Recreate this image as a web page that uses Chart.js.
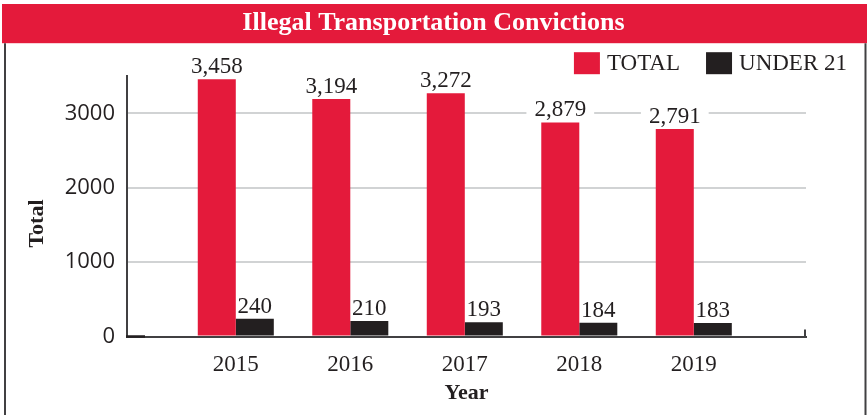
<!DOCTYPE html>
<html>
<head>
<meta charset="utf-8">
<title>Illegal Transportation Convictions</title>
<script src="https://cdn.jsdelivr.net/npm/chart.js@4.4.1/dist/chart.umd.min.js"></script>
<style>
  html, body { margin: 0; padding: 0; background: #fff; }
  #wrap { width: 867px; height: 415px; position: relative; }
</style>
</head>
<body>
<div id="wrap"><canvas id="convictionsChart"></canvas></div>
<script>
(() => {
  // ---- DATA ----
  const years = ["2015", "2016", "2017", "2018", "2019"];
  const totalConvictions = [3458, 3194, 3272, 2879, 2791];
  const under21Convictions = [240, 210, 193, 184, 183];
  const yTickValues = [0, 1000, 2000, 3000];
  const yAxisTitle = "Total";

  // ---- STYLE ----
  const RED = "#e41a3b";
  const INK = "#231f20";
  const AXIS = "#414042";
  const GRID = "#d1d3d4";
  const SERIF = '"Liberation Serif", "Times New Roman", serif';
  const SANS = '"Open Sans", "Liberation Sans", sans-serif';

  const toPoints = vals => vals.map((v, i) => ({ x: i, y: v }));

  // ---- PLUGIN: red banner, side frame, y title ----
  const frameAndBanner = {
    id: "frameAndBanner",
    beforeDraw(chart) {
      const { ctx, width, height } = chart;
      const tb = chart.titleBlock;
      if (!tb) return;
      ctx.save();
      ctx.fillStyle = RED;
      ctx.fillRect(2, tb.top, width - 2, tb.bottom - tb.top);
      ctx.strokeStyle = AXIS;
      ctx.lineWidth = 2;
      ctx.beginPath();
      ctx.moveTo(5, tb.bottom);
      ctx.lineTo(5, height);
      ctx.moveTo(width - 1.5, tb.bottom);
      ctx.lineTo(width - 1.5, height);
      ctx.stroke();
      ctx.restore();
    },
    afterDraw(chart) {
      const { ctx, chartArea } = chart;
      ctx.save();
      // end tick on the right of the x axis, darker stub at the origin
      ctx.strokeStyle = AXIS;
      ctx.lineWidth = 2;
      ctx.beginPath();
      ctx.moveTo(chartArea.right - 1, chartArea.bottom + 1);
      ctx.lineTo(chartArea.right - 1, chartArea.bottom - 7);
      ctx.stroke();
      ctx.strokeStyle = INK;
      ctx.lineWidth = 2.5;
      ctx.beginPath();
      ctx.moveTo(chartArea.left - 1, chartArea.bottom);
      ctx.lineTo(chartArea.left + 18, chartArea.bottom);
      ctx.stroke();

      // rotated y title, sitting a little low like the print original
      ctx.translate(37, chartArea.bottom - 113);
      ctx.rotate(-Math.PI / 2);
      ctx.font = "bold 22px " + SERIF;
      ctx.fillStyle = INK;
      ctx.textAlign = "center";
      ctx.textBaseline = "middle";
      ctx.fillText(yAxisTitle, 0, 0);
      ctx.restore();
    }
  };

  // ---- PLUGIN: legend row + right spacer (own layout boxes) ----
  function drawLegend(chart, box) {
    const ctx = chart.ctx;
    ctx.save();
    ctx.font = "23px " + SERIF;
    ctx.textBaseline = "middle";
    const items = chart.data.datasets.map(ds => ({
      text: ds.label,
      color: ds.backgroundColor,
      w: ctx.measureText(ds.label).width
    }));
    const swW = 26, swH = 22, gapText = 7, gapItem = 26;
    const total = items.reduce((s, it) => s + swW + gapText + it.w, 0) + gapItem * (items.length - 1);
    let x = box.right - total;
    const top = box.top + 9;
    items.forEach(it => {
      ctx.fillStyle = it.color;
      ctx.fillRect(x, top, swW, swH);
      x += swW + gapText;
      ctx.fillStyle = INK;
      ctx.fillText(it.text, x, top + swH / 2 + 1);
      x += it.w + gapItem;
    });
    ctx.restore();
  }

  const legendRow = {
    id: "legendRow",
    beforeInit(chart) {
      Chart.layouts.addBox(chart, {
        position: "top",
        weight: 1000,
        fullSize: true,
        options: {},
        isHorizontal() { return true; },
        update(maxWidth) { this.width = maxWidth; this.height = 33; },
        draw() { drawLegend(chart, this); }
      });
      Chart.layouts.addBox(chart, {
        position: "right",
        weight: 0,
        fullSize: false,
        options: {},
        isHorizontal() { return false; },
        update(maxWidth, maxHeight) { this.width = 41; this.height = maxHeight; },
        draw() {}
      });
      Chart.layouts.addBox(chart, {
        position: "left",
        weight: 10,
        fullSize: false,
        options: {},
        isHorizontal() { return false; },
        update(maxWidth, maxHeight) { this.width = 32.7; this.height = maxHeight; },
        draw() {}
      });
    }
  };

  // ---- PLUGIN: value labels above bars ----
  function eachLabel(chart, fn) {
    const ctx = chart.ctx;
    chart.data.datasets.forEach((ds, di) => {
      const meta = chart.getDatasetMeta(di);
      meta.data.forEach((bar, i) => {
        const text = ds.data[i].y.toLocaleString("en-US");
        ctx.save();
        ctx.font = "23px " + SERIF;
        ctx.textAlign = "center";
        ctx.textBaseline = "alphabetic";
        fn(ctx, bar.x, bar.y, text, ctx.measureText(text).width);
        ctx.restore();
      });
    });
  }

  const barValueLabels = {
    id: "barValueLabels",
    beforeDatasetsDraw(chart) {
      eachLabel(chart, (ctx, x, y, text, w) => {
        ctx.fillStyle = "#fff";
        ctx.fillRect(x - w / 2 - 8, y - 24, w + 16, 20);
      });
    },
    afterDatasetsDraw(chart) {
      eachLabel(chart, (ctx, x, y, text) => {
        ctx.fillStyle = INK;
        ctx.fillText(text, x, y - 6);
      });
    }
  };

  // ---- CHART ----
  new Chart(document.getElementById("convictionsChart"), {
    type: "bar",
    data: {
      datasets: [
        {
          label: "TOTAL",
          data: toPoints(totalConvictions),
          backgroundColor: RED,
          categoryPercentage: 0.664,
          barPercentage: 1
        },
        {
          label: "UNDER 21",
          data: toPoints(under21Convictions),
          backgroundColor: INK,
          categoryPercentage: 0.664,
          barPercentage: 1
        }
      ]
    },
    options: {
      responsive: true,
      maintainAspectRatio: false,
      animation: false,
      events: [],
      layout: { padding: { top: 4, left: 20, right: 20, bottom: 0 } },
      plugins: {
        legend: { display: false },
        tooltip: { enabled: false },
        title: {
          display: true,
          text: "Illegal Transportation Convictions",
          color: "#fff",
          font: { family: SERIF, size: 26, weight: "bold" },
          padding: { top: 4, bottom: 4 }
        }
      },
      scales: {
        x: {
          type: "linear",
          min: -0.95,
          max: 4.98,
          offset: false,
          grid: { display: false, drawTicks: false },
          border: { color: AXIS, width: 2 },
          afterBuildTicks: scale => {
            scale.ticks = years.map((_, i) => ({ value: i }));
          },
          ticks: {
            autoSkip: false,
            maxRotation: 0,
            padding: 14.5,
            color: INK,
            font: { family: SERIF, size: 23 },
            callback: v => years[v]
          },
          title: {
            display: true,
            text: "Year",
            color: INK,
            font: { family: SERIF, size: 22, weight: "bold" },
            padding: { top: -12.5, bottom: 8 }
          }
        },
        y: {
          min: 0,
          max: 3500,
          grid: { color: GRID, lineWidth: 2, drawTicks: false },
          border: { color: AXIS, width: 2 },
          afterBuildTicks: scale => {
            scale.ticks = yTickValues.map(v => ({ value: v }));
          },
          ticks: {
            autoSkip: false,
            padding: 12,
            color: INK,
            font: { family: SANS, size: 22 },
            callback: v => String(v)
          },
          title: { display: false }
        }
      }
    },
    plugins: [frameAndBanner, legendRow, barValueLabels]
  });
})();
</script>
</body>
</html>
